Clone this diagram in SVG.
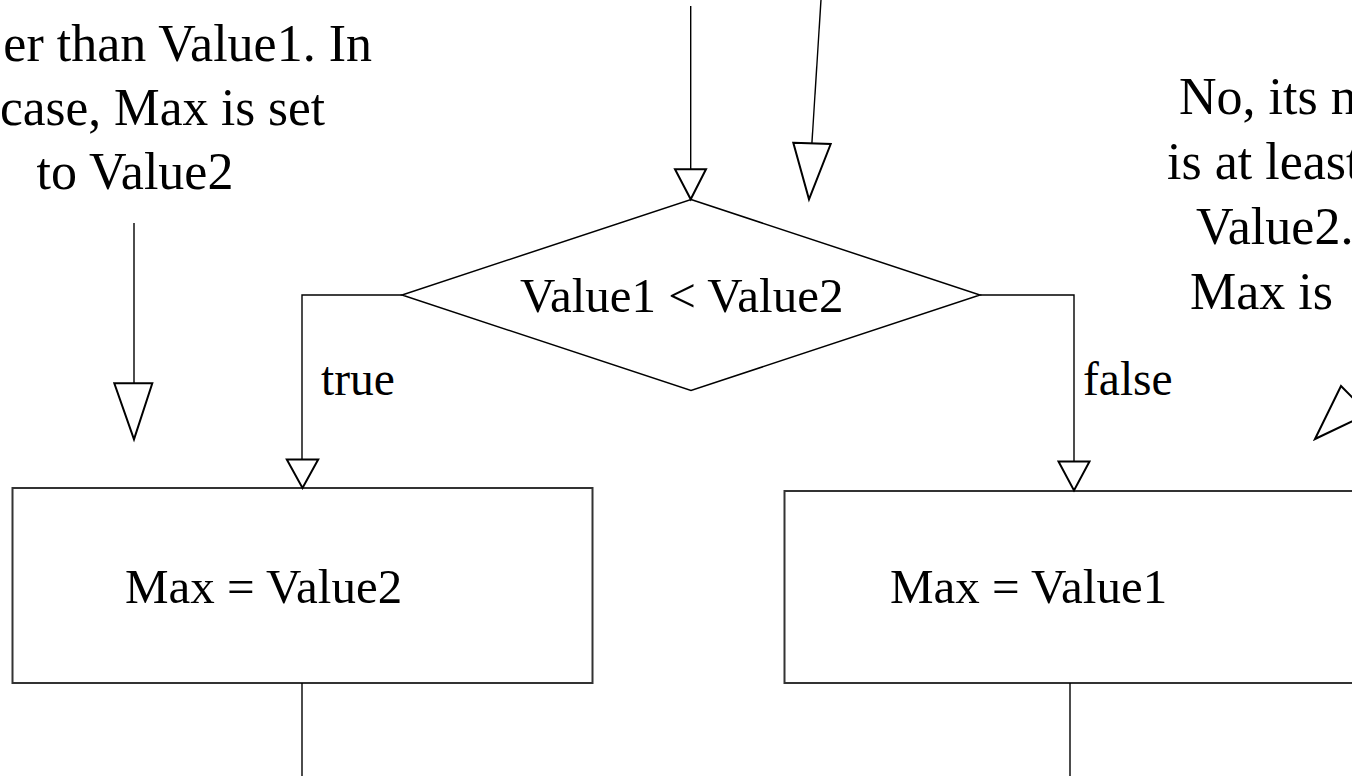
<svg xmlns="http://www.w3.org/2000/svg" width="1352" height="776" viewBox="0 0 1352 776">
<style>
  .t { font-family: "Liberation Serif", "Times New Roman", serif; fill: #000; }
  .ann { font-size: 52px; }
  .lbl { font-size: 49px; }
  .edge { font-size: 47.5px; }
  .box { fill: #fff; stroke: #333; stroke-width: 2; }
  .dia { fill: #fff; stroke: #000; stroke-width: 1.5; }
  .ln { fill: none; stroke: #000; stroke-width: 1.4; }
  .head { fill: #fff; stroke: #000; stroke-width: 2; stroke-linejoin: miter; }
</style>
<rect width="1352" height="776" fill="#fff"/>

<g id="note-left">
  <text class="t ann" x="372" y="61" text-anchor="end">er than Value1. In</text>
  <text class="t ann" x="0" y="125" textLength="325" lengthAdjust="spacingAndGlyphs">case, Max is set</text>
  <text class="t ann" x="135" y="189" text-anchor="middle">to Value2</text>
</g>

<g id="note-right">
  <text class="t ann" x="1179" y="114">No, its n</text>
  <text class="t ann" x="1167" y="179">is at least</text>
  <text class="t ann" x="1196" y="244">Value2.</text>
  <text class="t ann" x="1190" y="309">Max is</text>
</g>

<g id="decision">
  <polygon class="dia" points="691,199.5 980,295 691,390.5 402,295"/>
  <text class="t lbl" x="520" y="312">Value1 &lt; Value2</text>
</g>

<g id="box-max2">
  <rect class="box" x="12.5" y="488" width="580" height="195"/>
  <text class="t lbl" x="125" y="603">Max = Value2</text>
</g>

<g id="box-max1">
  <rect class="box" x="784.5" y="491" width="700" height="192"/>
  <text class="t lbl" x="890" y="603">Max = Value1</text>
</g>

<g id="connectors">
  <line class="ln" x1="690.7" y1="6" x2="690.7" y2="174"/>
  <polygon class="head" points="675,169.3 706,169.3 690.7,199.3"/>
  <line class="ln" x1="821.3" y1="-5" x2="811.6" y2="148"/>
  <polygon class="head" points="793.3,142.7 830.7,144 809,199.3"/>
  <line class="ln" x1="134" y1="223" x2="134" y2="389"/>
  <polygon class="head" points="114.3,383.3 152.3,383.3 134,439.3"/>
  <line class="ln" x1="1351" y1="404" x2="1500" y2="255"/>
  <polygon class="head" points="1315,439 1341,386 1368.3,413.5"/>
  <polyline class="ln" points="402,295 302,295 302,465"/>
  <polygon class="head" points="286.8,459.5 318.2,459.5 302.5,488"/>
  <text class="t edge" x="321" y="395">true</text>
  <polyline class="ln" points="980,295 1074,295 1074,466"/>
  <polygon class="head" points="1058.5,461.5 1089.5,461.5 1074,490.5"/>
  <text class="t edge" x="1083" y="395">false</text>
  <line class="ln" x1="302" y1="683" x2="302" y2="780"/>
  <line class="ln" x1="1070" y1="683" x2="1070" y2="780"/>
</g>
</svg>
